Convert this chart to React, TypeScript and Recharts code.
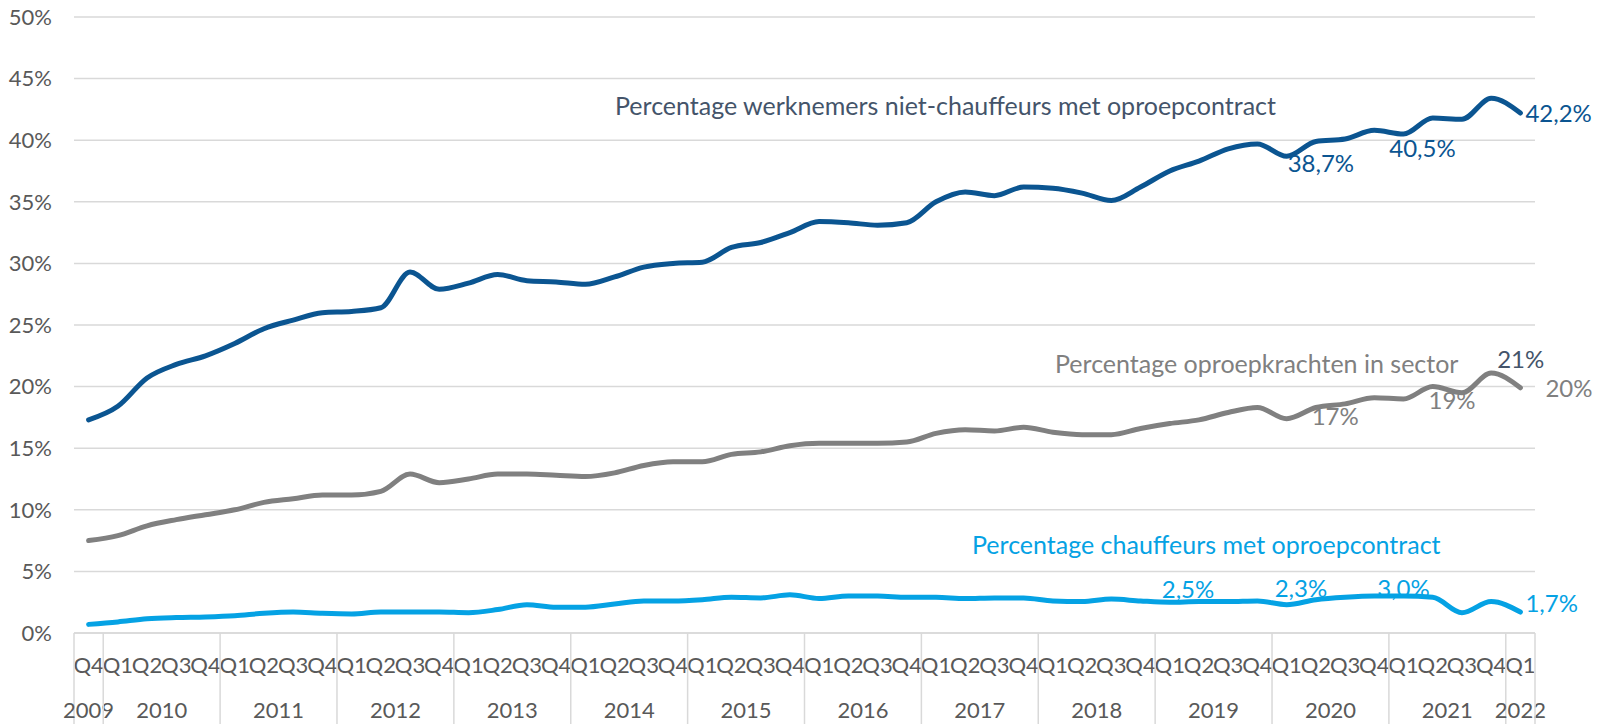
import { CartesianGrid, LabelList, Line, LineChart, XAxis, YAxis } from 'recharts';

const W = 1604;
const H = 724;
const MARGIN = { top: 17, right: 69, bottom: 0, left: 0 };
const Y_AXIS_W = 74;
const X_AXIS_H = 91;
const PLOT_W = W - MARGIN.left - MARGIN.right - Y_AXIS_W;
const FONT = 'Lato, "Open Sans", sans-serif';

// Q4 2009 .. Q1 2022
const periods = Array.from({ length: 50 }, (_, i) => ({
  year: String(2009 + Math.floor((i + 3) / 4)),
  quarter: 'Q' + (((i + 3) % 4) + 1),
}));

const nietChauffeurs = [
  17.3, 18.4, 20.7, 21.8, 22.5, 23.5, 24.7, 25.4, 26.0, 26.1,
  26.4, 29.3, 27.9, 28.4, 29.1, 28.6, 28.5, 28.3, 28.9, 29.7,
  30.0, 30.1, 31.3, 31.7, 32.5, 33.4, 33.3, 33.1, 33.3, 35.0,
  35.8, 35.5, 36.2, 36.1, 35.7, 35.1, 36.2, 37.5, 38.3, 39.3,
  39.7, 38.7, 39.9, 40.1, 40.8, 40.5, 41.8, 41.7, 43.4, 42.2,
];

const oproepkrachten = [
  7.5, 7.9, 8.7, 9.2, 9.6, 10.0, 10.6, 10.9, 11.2, 11.2,
  11.5, 12.9, 12.2, 12.5, 12.9, 12.9, 12.8, 12.7, 13.0, 13.6,
  13.9, 13.9, 14.5, 14.7, 15.2, 15.4, 15.4, 15.4, 15.5, 16.2,
  16.5, 16.4, 16.7, 16.3, 16.1, 16.1, 16.6, 17.0, 17.3, 17.9,
  18.3, 17.4, 18.3, 18.6, 19.1, 19.0, 20.0, 19.5, 21.1, 19.9,
];

const chauffeurs = [
  0.7, 0.9, 1.15, 1.25, 1.3, 1.4, 1.6, 1.7, 1.6, 1.55,
  1.7, 1.7, 1.7, 1.65, 1.9, 2.3, 2.1, 2.1, 2.35, 2.6,
  2.6, 2.7, 2.9, 2.85, 3.1, 2.8, 3.0, 3.0, 2.9, 2.9,
  2.8, 2.85, 2.85, 2.6, 2.55, 2.75, 2.6, 2.5, 2.55, 2.55,
  2.6, 2.3, 2.7, 2.9, 3.0, 3.0, 2.9, 1.65, 2.55, 1.7,
];

const yTicks = [0, 5, 10, 15, 20, 25, 30, 35, 40, 45, 50];

const data = periods.map((p, i) => ({
  key: `${p.year} ${p.quarter}`,
  niet: nietChauffeurs[i],
  oproep: oproepkrachten[i],
  chauf: chauffeurs[i],
}));
const keys = data.map((d) => d.key);

const COLORS = {
  niet: '#0B5591',
  oproep: '#808080',
  chauf: '#05A2E4',
  slate: '#44546A',
  axis: '#595959',
  grid: '#D9D9D9',
};

type LabelSpec = { dx: number; dy: number; anchor: 'start' | 'middle' | 'end'; color?: string };

const nietLabels: Record<number, LabelSpec> = {
  41: { dx: 1, dy: 16, anchor: 'start' },
  45: { dx: 19, dy: 23, anchor: 'middle' },
  49: { dx: 5, dy: 9, anchor: 'start' },
};
const oproepLabels: Record<number, LabelSpec> = {
  41: { dx: 25, dy: 6, anchor: 'start' },
  45: { dx: 25, dy: 10, anchor: 'start' },
  48: { dx: 6, dy: -5, anchor: 'start', color: COLORS.slate },
  49: { dx: 25, dy: 9, anchor: 'start' },
};
const chaufLabels: Record<number, LabelSpec> = {
  37: { dx: -8, dy: -4, anchor: 'start' },
  41: { dx: -12, dy: -8, anchor: 'start' },
  45: { dx: 0, dy: 1, anchor: 'middle' },
  49: { dx: 5, dy: 0, anchor: 'start' },
};

const annotations = [
  { text: 'Percentage werknemers niet-chauffeurs met oproepcontract', x: 615, y: 115, color: COLORS.slate },
  { text: 'Percentage oproepkrachten in sector', x: 1055, y: 373, color: COLORS.oproep },
  { text: 'Percentage chauffeurs met oproepcontract', x: 972, y: 554, color: COLORS.chauf },
];

const oneDecimal = (v: number) => v.toFixed(1).replace('.', ',') + '%';
const whole = (v: number) => Math.round(v) + '%';

function pointLabel(specs: Record<number, LabelSpec>, color: string, fmt: (v: number) => string) {
  return (props: any) => {
    const { x, y, index, value } = props;
    const s = specs[index];
    if (!s) return null;
    return (
      <text
        x={x + s.dx}
        y={y + s.dy}
        textAnchor={s.anchor}
        fill={s.color ?? color}
        fontSize={24}
        fontFamily={FONT}
      >
        {fmt(value)}
      </text>
    );
  };
}

function QuarterTick(props: any) {
  const { x, y, payload } = props;
  const i = keys.indexOf(payload.value);
  if (i < 0) return null;
  const p = periods[i];
  const bw = PLOT_W / periods.length;
  const firstOfYear = i === 0 || periods[i - 1].year !== p.year;
  const n = periods.filter((q) => q.year === p.year).length;
  return (
    <g>
      <text x={x} y={y + 40} textAnchor="middle" fill={COLORS.axis} fontSize={22} fontFamily={FONT}>
        {p.quarter}
      </text>
      {firstOfYear && (
        <>
          <line x1={x - bw / 2} x2={x - bw / 2} y1={y} y2={y + X_AXIS_H} stroke={COLORS.grid} strokeWidth={1.5} />
          <text
            x={x + ((n - 1) * bw) / 2}
            y={y + 85}
            textAnchor="middle"
            fill={COLORS.axis}
            fontSize={22}
            fontFamily={FONT}
          >
            {p.year}
          </text>
        </>
      )}
      {i === periods.length - 1 && (
        <line x1={x + bw / 2} x2={x + bw / 2} y1={y} y2={y + X_AXIS_H} stroke={COLORS.grid} strokeWidth={1.5} />
      )}
    </g>
  );
}

export default function App() {
  const pad = PLOT_W / periods.length / 2;
  return (
    <div style={{ position: 'absolute', left: 0, top: 0, width: W, height: H, background: '#fff' }}>
      <LineChart width={W} height={H} data={data} margin={MARGIN}>
        <CartesianGrid vertical={false} stroke={COLORS.grid} strokeWidth={1.5} />
        <XAxis
          dataKey="key"
          height={X_AXIS_H}
          interval={0}
          padding={{ left: pad, right: pad }}
          tickLine={false}
          tickSize={0}
          tickMargin={0}
          axisLine={{ stroke: COLORS.grid, strokeWidth: 1.5 }}
          tick={<QuarterTick />}
        />
        <YAxis
          width={Y_AXIS_W}
          domain={[0, 50]}
          ticks={yTicks}
          interval={0}
          axisLine={false}
          tickLine={false}
          tickSize={0}
          tickMargin={22}
          tickFormatter={(v: number) => v + '%'}
          tick={{ fill: COLORS.axis, fontSize: 22, fontFamily: FONT }}
        />
        <Line
          type="monotone"
          dataKey="chauf"
          stroke={COLORS.chauf}
          strokeWidth={5}
          strokeLinecap="round"
          dot={false}
          isAnimationActive={false}
        >
          <LabelList dataKey="chauf" content={pointLabel(chaufLabels, COLORS.chauf, oneDecimal)} />
        </Line>
        <Line
          type="monotone"
          dataKey="oproep"
          stroke={COLORS.oproep}
          strokeWidth={5}
          strokeLinecap="round"
          dot={false}
          isAnimationActive={false}
        >
          <LabelList dataKey="oproep" content={pointLabel(oproepLabels, COLORS.oproep, whole)} />
        </Line>
        <Line
          type="monotone"
          dataKey="niet"
          stroke={COLORS.niet}
          strokeWidth={5}
          strokeLinecap="round"
          dot={false}
          isAnimationActive={false}
        >
          <LabelList dataKey="niet" content={pointLabel(nietLabels, COLORS.niet, oneDecimal)} />
        </Line>
      </LineChart>
      <svg width={W} height={H} style={{ position: 'absolute', left: 0, top: 0, pointerEvents: 'none' }}>
        {annotations.map((a) => (
          <text key={a.text} x={a.x} y={a.y} fill={a.color} fontSize={25} fontFamily={FONT}>
            {a.text}
          </text>
        ))}
      </svg>
    </div>
  );
}
